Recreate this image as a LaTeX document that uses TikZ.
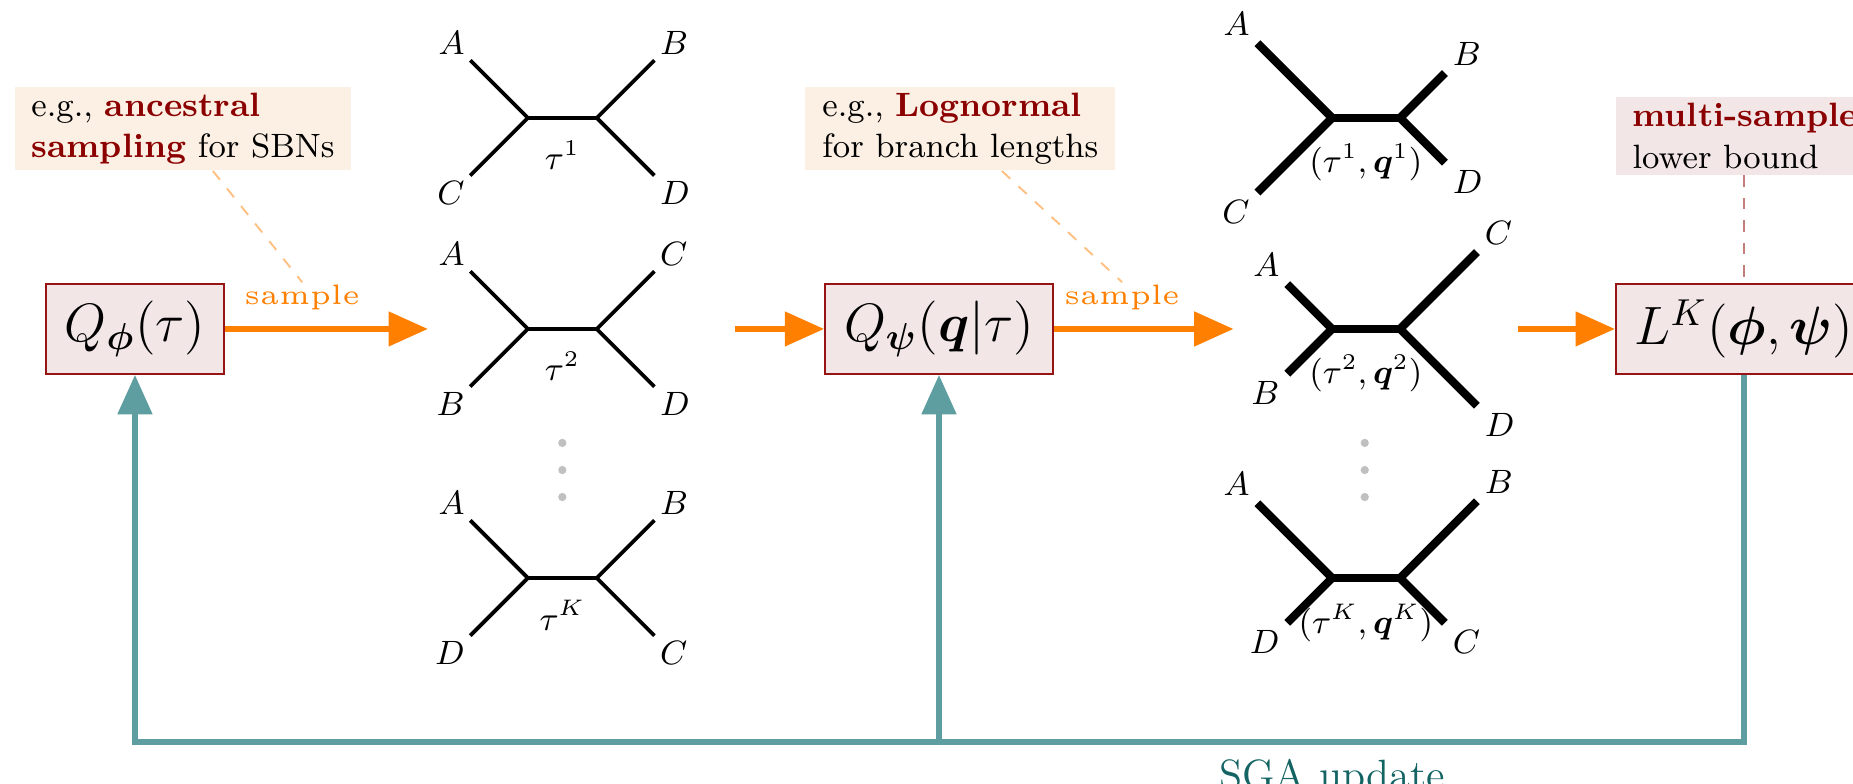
\documentclass[tikz,border=0pt]{standalone}
\usepackage{amsmath,bm}
\usepackage{graphicx}
\usetikzlibrary{arrows.meta,positioning}

\definecolor{boxred}{RGB}{150,20,20}
\definecolor{boxfill}{RGB}{242,230,230}
\definecolor{notefill}{RGB}{252,240,228}
\definecolor{darkred}{RGB}{139,0,0}
\definecolor{flowor}{RGB}{255,128,0}
\definecolor{sgateal}{RGB}{95,158,160}
\definecolor{sgatext}{RGB}{20,100,100}
\definecolor{dotgray}{RGB}{192,192,192}

\begin{document}
\begin{tikzpicture}[
    dist/.style={
        rectangle,
        draw=boxred,
        line width=0.6pt,
        fill=boxfill,
        minimum height=0.84cm,
        inner xsep=5pt,
        font=\Large
    },
    note/.style={
        rectangle,
        fill=notefill,
        align=left,
        inner xsep=4.5pt,
        inner ysep=1.6pt,
        font=\small
    },
    leaf/.style={font=\small, inner sep=1pt},
    brthin/.style={line width=1pt, line cap=butt},
    brbold/.style={line width=2.2pt, line cap=butt},
    flow/.style={-{Triangle[length=10.5pt,width=9pt]}, line width=1.5pt, draw=flowor},
    update/.style={-{Triangle[length=10.5pt,width=9pt]}, line width=1.5pt, draw=sgateal},
    hint/.style={dashed, draw=flowor!50, line width=0.5pt},
    samp/.style={text=flowor, inner sep=0pt, above=4.3pt}
]
\useasboundingbox (0,-4.264) rectangle (17.366,3.083);

% distributions and objective
\node[dist] (qphi) at (1.265,0) {$Q_{\bm{\phi}}(\tau)$};
\node[dist] (qpsi) at (8.80,0) {$Q_{\bm{\psi}}(\bm{q}|\tau)$};
\node[dist] (lk) at (16.345,0) {$L^K(\bm{\phi},\bm{\psi})$};

\node[note] (note1) at (1.715,1.879) {e.g., \textbf{\textcolor{darkred}{ancestral}}\\\textbf{\textcolor{darkred}{sampling}} for SBNs};
\node[note] (note2) at (9.0,1.879) {e.g., \textbf{\textcolor{darkred}{Lognormal}}\\for branch lengths};
\node[note, fill=boxfill, above right=1.01cm and 0cm of lk.north west] (note3) {\textbf{\textcolor{darkred}{multi-sample}}\\lower bound};

% ends of the tree columns
\coordinate (treesin) at (4.01,0);
\coordinate (treesout) at (6.89,0);
\coordinate (qtreesin) at (11.56,0);
\coordinate (qtreesout) at (14.23,0);
\coordinate (base) at (0,-3.87);

\draw[flow] (qphi) -- node[samp, pos=0.38] (samp1) {\scalebox{1.5}{\tiny sample}} (treesin);
\draw[flow] (treesout) -- (qpsi);
\draw[flow] (qpsi) -- node[samp, pos=0.38] (samp2) {\scalebox{1.5}{\tiny sample}} (qtreesin);
\draw[flow] (qtreesout) -- (lk);

\draw[hint] ([xshift=0.28cm]note1.south) -- (samp1.north);
\draw[hint] ([xshift=0.39cm]note2.south) -- (samp2.north);
\draw[dashed, draw=boxred!55, line width=0.7pt] (note3.south -| lk) -- (lk.north);

% SGA feedback
\draw[update] (lk.south) |- node[pos=0.628, below=0.5pt, text=sgatext, font=\fontsize{11.3}{13}\selectfont] (sga) {SGA update} (qphi |- base) -- (qphi.south);
\draw[update] (qpsi |- base) -- (qpsi.south);

% sampled topologies
\foreach \y/\ul/\ll/\ur/\lr/\k in {1.978/A/C/B/D/1, 0/A/B/C/D/2, -2.334/A/D/B/C/K} {
    \coordinate (ta\k) at (4.947,\y);
    \coordinate (tb\k) at (5.593,\y);
    \draw[brthin] (ta\k) -- (tb\k);
    \draw[brthin] (ta\k) -- ++(-0.54,0.54) node[leaf, anchor=south east] (t\k ul) {$\ul$};
    \draw[brthin] (ta\k) -- ++(-0.54,-0.54) node[leaf, anchor=north east] (t\k ll) {$\ll$};
    \draw[brthin] (tb\k) -- ++(0.54,0.54) node[leaf, anchor=south west] (t\k ur) {$\ur$};
    \draw[brthin] (tb\k) -- ++(0.54,-0.54) node[leaf, anchor=north west] (t\k lr) {$\lr$};
    \node[font=\small, inner sep=0pt] (tau\k) at (5.27,\y-0.35) {$\tau^{\k}$};
}

% sampled topologies with branch lengths
\foreach \y/\ul/\ll/\ur/\lr/\k/\sa/\sb/\sc/\sd in {1.978/A/C/B/D/1/0.70/0.70/0.42/0.42, 0/A/B/C/D/2/0.42/0.42/0.72/0.72, -2.334/A/D/B/C/K/0.70/0.42/0.72/0.42} {
    \coordinate (qa\k) at (12.484,\y);
    \coordinate (qb\k) at (13.121,\y);
    \draw[brbold] (qa\k) -- (qb\k);
    \draw[brbold] (qa\k) -- ++(-\sa,\sa) node[leaf, anchor=south east] (q\k ul) {$\ul$};
    \draw[brbold] (qa\k) -- ++(-\sb,-\sb) node[leaf, anchor=north east] (q\k ll) {$\ll$};
    \draw[brbold] (qb\k) -- ++(\sc,\sc) node[leaf, anchor=south west] (q\k ur) {$\ur$};
    \draw[brbold] (qb\k) -- ++(\sd,-\sd) node[leaf, anchor=north west] (q\k lr) {$\lr$};
    \node[font=\small, inner sep=0pt] (tq\k) at (12.80,\y-0.42) {$(\tau^{\k},\bm{q}^{\k})$};
}

\foreach \d in {-1.068,-1.322,-1.575} {
    \fill[dotgray] (5.27,\d) circle (1.1pt);
    \fill[dotgray] (12.79,\d) circle (1.1pt);
}

\end{tikzpicture}
\end{document}
